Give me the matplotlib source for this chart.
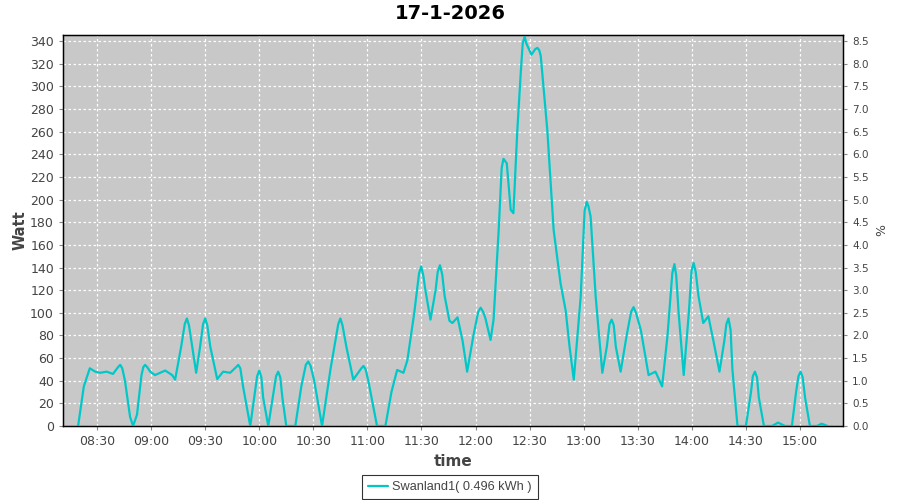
import matplotlib
matplotlib.use("Agg")
import matplotlib.pyplot as plt
import matplotlib.dates as mdates
import pandas as pd

DAY = "2026-01-17"
TITLE = "17-1-2026"
SERIES_NAME = "Swanland1( 0.496 kWh )"

# readings (time, watt)
times = [
    "08:19:30", "08:22:40", "08:26:00", "08:29:00", "08:31:40", "08:35:20", "08:38:50",
    "08:41:40", "08:42:50", "08:44:00", "08:45:30", "08:48:20", "08:50:00", "08:52:10",
    "08:54:40", "08:55:40", "08:56:40", "08:57:50", "08:59:30", "09:02:10", "09:07:50",
    "09:11:40", "09:13:20", "09:16:40", "09:18:40", "09:19:50", "09:21:00", "09:22:20",
    "09:25:00", "09:27:10", "09:28:50", "09:30:00", "09:31:10", "09:32:50", "09:36:40",
    "09:40:00", "09:43:50", "09:47:10", "09:48:20", "09:49:30", "09:51:00", "09:55:00",
    "09:58:50", "10:00:00", "10:01:10", "10:02:10", "10:05:00", "10:09:20", "10:10:30",
    "10:11:40", "10:12:50", "10:15:00", "10:20:00", "10:23:20", "10:25:50", "10:27:10",
    "10:28:30", "10:30:30", "10:34:50", "10:39:30", "10:43:50", "10:45:00", "10:46:10",
    "10:48:20", "10:52:10", "10:56:40", "10:57:50", "10:59:00", "11:00:30", "11:05:20",
    "11:10:00", "11:13:20", "11:16:30", "11:20:00", "11:22:10", "11:26:00", "11:28:40",
    "11:29:50", "11:31:00", "11:32:10", "11:35:00", "11:37:50", "11:39:00", "11:40:15",
    "11:41:30", "11:42:50", "11:45:30", "11:47:10", "11:50:00", "11:52:50", "11:55:20",
    "11:58:50", "12:01:30", "12:02:50", "12:04:10", "12:05:30", "12:08:20", "12:10:00",
    "12:12:50", "12:14:30", "12:15:30", "12:17:20", "12:19:30", "12:21:00", "12:23:10",
    "12:25:00", "12:26:10", "12:27:15", "12:28:10", "12:29:00", "12:31:00", "12:33:10",
    "12:34:20", "12:35:20", "12:36:10", "12:39:50", "12:43:20", "12:47:10", "12:50:00",
    "12:52:10", "12:54:30", "12:58:20", "13:00:30", "13:01:40", "13:02:40", "13:03:50",
    "13:06:40", "13:10:20", "13:12:50", "13:14:20", "13:15:30", "13:16:40", "13:17:50",
    "13:20:30", "13:23:50", "13:26:20", "13:27:40", "13:29:00", "13:31:40", "13:36:00",
    "13:39:50", "13:43:30", "13:46:30", "13:49:10", "13:50:20", "13:51:20", "13:52:40",
    "13:55:30", "13:58:20", "13:59:50", "14:01:00", "14:02:10", "14:03:40", "14:06:20",
    "14:09:10", "14:12:00", "14:15:20", "14:18:00", "14:19:10", "14:20:20", "14:21:30",
    "14:22:30", "14:25:20", "14:30:00", "14:32:50", "14:33:50", "14:35:00", "14:36:10",
    "14:37:10", "14:40:00", "14:44:30", "14:47:50", "14:51:40", "14:55:30", "14:57:50",
    "14:59:10", "15:00:20", "15:01:30", "15:02:50", "15:05:30", "15:09:20", "15:12:00",
    "15:15:20",
]
watts = [
    0, 35, 51, 48, 47, 48, 46,
    52, 54, 51, 40, 8, 0, 10,
    45, 52, 54, 52, 48, 45, 49,
    45, 41, 70, 90, 95, 89, 75,
    47, 70, 90, 95, 89, 70, 41.5,
    48, 47, 52, 54, 51, 35, 0,
    44, 49, 43, 25, 0, 44, 48,
    43, 25, 0, 0, 35, 54, 57,
    53, 40, 0, 50, 90, 95, 89,
    70, 41, 51, 53, 50, 40, 0,
    0, 30, 49.5, 47, 58, 100, 135,
    141, 133, 120, 94, 120, 136, 142,
    134, 115, 93, 91, 96, 75, 48,
    80, 101, 104.5, 101, 95, 76, 94,
    173, 228, 236, 232, 191, 188, 261,
    310, 338, 344, 338, 335, 328, 333,
    334, 332, 327, 261, 173, 126, 102,
    70, 41, 114, 190, 198, 194, 185,
    114, 47, 70, 90, 94, 89, 70,
    48, 80, 101, 105, 100, 85, 45,
    48, 35, 80, 135, 143, 133, 100,
    45, 100, 137, 144, 136, 115, 91,
    97, 75, 48, 75, 90, 95, 85,
    50, 0, 0, 30, 44, 48, 43,
    25, 0, 0, 3, 0, 0, 30,
    44, 48, 43, 25, 0, 0, 2,
    0,
]

x_start, x_end = "08:11:07", "15:23:53"
tick_times = ["08:30", "09:00", "09:30", "10:00", "10:30", "11:00", "11:30",
              "12:00", "12:30", "13:00", "13:30", "14:00", "14:30", "15:00"]
watt_ticks = list(range(0, 341, 20))
pct_ticks = [i * 0.5 for i in range(18)]
WATT_MAX = 345.4
WATT_PER_PCT = 40.0

def to_dt(s):
    return pd.to_datetime(DAY + " " + s)

t = [to_dt(s) for s in times]

fig = plt.figure(figsize=(9, 5), dpi=100)
ax = fig.add_axes([0.07, 0.148, 0.8667, 0.782])
ax.set_facecolor("#c8c8c8")

ax.plot(t, watts, color="#00c8c8", lw=1.6, zorder=3,
        solid_joinstyle="round", solid_capstyle="round")

ax.set_xlim(to_dt(x_start), to_dt(x_end))
ax.set_ylim(0, WATT_MAX)
ax.set_xticks([to_dt(s) for s in tick_times])
ax.xaxis.set_major_formatter(mdates.DateFormatter("%H:%M"))
ax.set_yticks(watt_ticks)
ax.grid(True, color="white", ls=(0, (2, 2)), lw=0.9)
ax.set_axisbelow(True)

for sp in ax.spines.values():
    sp.set_color("black")
    sp.set_linewidth(1.0)

ax.tick_params(labelsize=9, colors="#444444", length=3, width=0.8)
ax.tick_params(axis="both", color="#888888")

ax2 = ax.twinx()
ax2.set_ylim(0, WATT_MAX / WATT_PER_PCT)
ax2.set_yticks(pct_ticks)
ax2.set_yticklabels([f"{v:.1f}" for v in pct_ticks])
ax2.tick_params(labelsize=7.5, colors="#444444", length=3, width=0.8)
ax2.tick_params(color="#888888")

ax.set_xlabel("time", fontsize=11, fontweight="bold", color="#444444", labelpad=4)
ax.set_ylabel("Watt", fontsize=10.5, fontweight="bold", color="#444444", labelpad=2)
ax2.set_ylabel("%", fontsize=9, color="#444444", labelpad=5)

fig.text(0.5, 0.973, TITLE, ha="center", va="center", fontsize=14, fontweight="bold")

leg = fig.legend([ax.lines[0]], [SERIES_NAME], loc="center",
                 bbox_to_anchor=(0.5, 0.026),
                 prop={"family": "Liberation Sans", "size": 9.2}, frameon=True,
                 fancybox=False, handlelength=1.6, borderpad=0.45,
                 handletextpad=0.3, borderaxespad=0)
leg.get_frame().set_edgecolor("black")
leg.get_frame().set_linewidth(0.8)
for txt in leg.get_texts():
    txt.set_color("#444444")

fig.savefig("out.png", dpi=100)
